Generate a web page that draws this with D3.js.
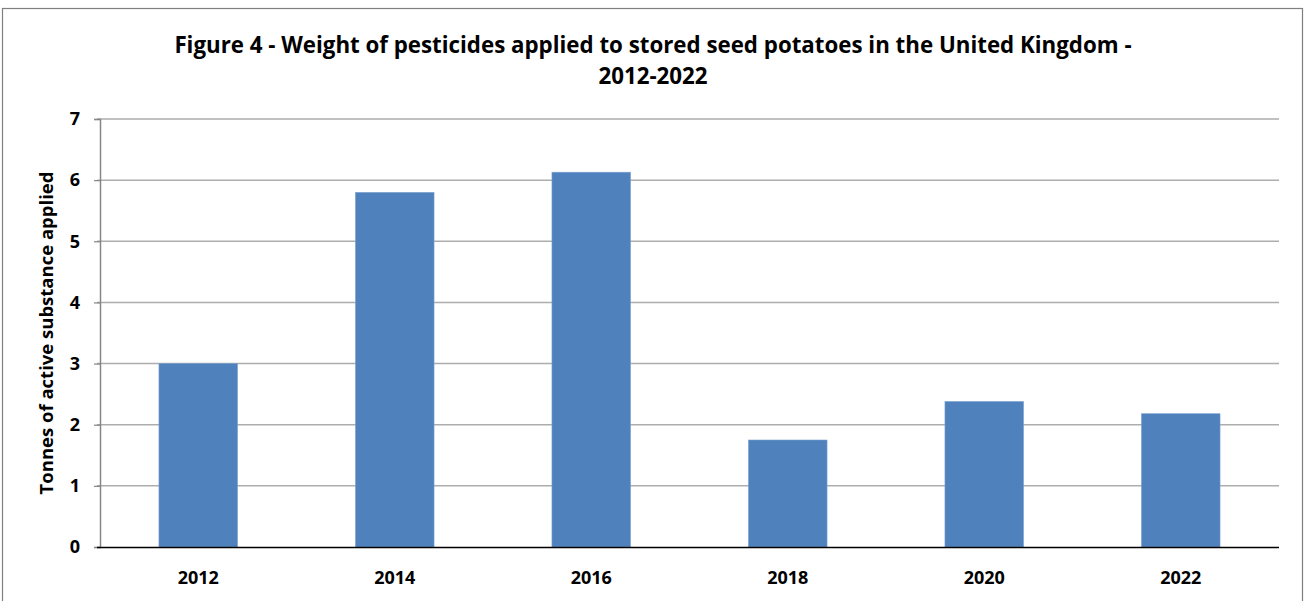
<!DOCTYPE html>
<html><head><meta charset="utf-8">
<script src="https://cdn.jsdelivr.net/npm/d3@7"></script>
<style>body{margin:0;background:#fff;} svg{display:block;font-family:"Open Sans","Liberation Sans",sans-serif;}</style>
</head><body>
<svg id="c" width="1306" height="601"></svg>
<script>
const years = ["2012","2014","2016","2018","2020","2022"];
const values = [3.0, 5.8, 6.13, 1.75, 2.38, 2.18];
const yTicks = [0,1,2,3,4,5,6,7];
const titleLines = ["Figure 4 - Weight of pesticides applied to stored seed potatoes in the United Kingdom -", "2012-2022"];
const yTitle = "Tonnes of active substance applied";

const svg = d3.select("#c");
const m = {left:100, right:1279, top:119, bottom:547};

svg.append("rect").attr("x",2.5).attr("y",8.5).attr("width",1300).attr("height",620)
  .attr("fill","#fff").attr("stroke","#7f7f7f").attr("stroke-width",1.2);

const x = d3.scaleBand().domain(years).range([m.left,m.right]).paddingInner(0.6).paddingOuter(0.3);
const y = d3.scaleLinear().domain([0,7]).range([m.bottom,m.top]);

// gridlines
svg.append("g").selectAll("line").data(yTicks.filter(d=>d>0)).join("line")
  .attr("x1",97).attr("x2",m.right).attr("y1",d=>y(d)).attr("y2",d=>y(d))
  .attr("stroke","#adadad").attr("stroke-width",1.5);

// bars
svg.append("g").selectAll("rect").data(values).join("rect")
  .attr("x",(d,i)=>x(years[i])).attr("width",x.bandwidth())
  .attr("y",d=>y(d)).attr("height",d=>y(0)-y(d))
  .attr("fill","#4f81bd").attr("stroke","#7ea3d0").attr("stroke-width",0.6);

// y axis
const ya = svg.append("g").attr("transform",`translate(${m.left},0)`)
  .call(d3.axisLeft(y).tickValues(yTicks).tickSize(6).tickPadding(14).tickFormat(d3.format("d")));
ya.select(".domain").attr("stroke","#868686").attr("stroke-width",1.5);
ya.selectAll(".tick line").attr("stroke","#868686").attr("stroke-width",1.2);
ya.selectAll("text").attr("font-size",18).attr("font-weight","bold").attr("fill","#000")
  .attr("font-family","'Open Sans',sans-serif");

// x axis
const xa = svg.append("g").attr("transform",`translate(0,${m.bottom})`)
  .call(d3.axisBottom(x).tickSize(0).tickPadding(24));
xa.select(".domain").attr("stroke","#000").attr("stroke-width",1.3).attr("d",`M97,0.5H${m.right}`);
xa.selectAll("text").attr("font-size",18).attr("font-weight","bold").attr("fill","#000")
  .attr("font-family","'Open Sans',sans-serif");

// title
svg.append("g").selectAll("text").data(titleLines).join("text")
  .attr("x",653).attr("y",(d,i)=>53+i*31).attr("text-anchor","middle")
  .attr("font-size",22.3).attr("font-weight","bold").attr("fill","#000")
  .text(d=>d);

svg.append("text").attr("transform","translate(53,333) rotate(-90)")
  .attr("text-anchor","middle").attr("font-size",18.5).attr("font-weight","bold").attr("fill","#000")
  .text(yTitle);
</script>
</body></html>
